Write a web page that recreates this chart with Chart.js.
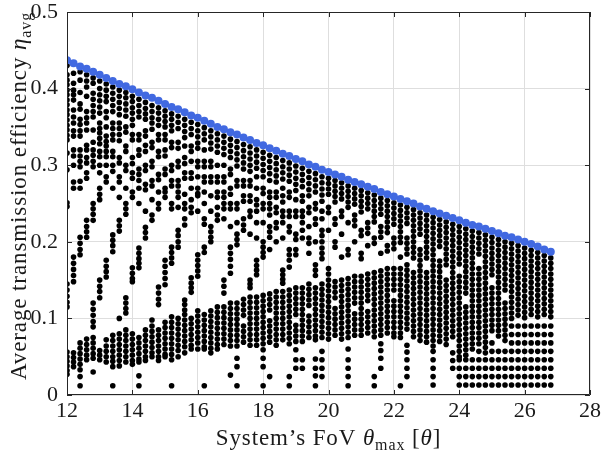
<!DOCTYPE html>
<html>
<head>
<meta charset="utf-8">
<script src="https://cdn.jsdelivr.net/npm/chart.js@4/dist/chart.umd.min.js"></script>
<style>
  html, body { margin: 0; padding: 0; background: #ffffff; }
  canvas { display: block; }
</style>
</head>
<body>
<canvas id="fovChart" width="602" height="454"></canvas>
<script>
// Field-of-view grid (degrees) for every evaluated system configuration
const fovValues = [
  12.0, 12.2, 12.4, 12.6, 12.8, 13.0, 13.2, 13.4, 13.6, 13.8,
  14.0, 14.2, 14.4, 14.6, 14.8, 15.0, 15.2, 15.4, 15.6, 15.8,
  16.0, 16.2, 16.4, 16.6, 16.8, 17.0, 17.2, 17.4, 17.6, 17.8,
  18.0, 18.2, 18.4, 18.6, 18.8, 19.0, 19.2, 19.4, 19.6, 19.8,
  20.0, 20.2, 20.4, 20.6, 20.8, 21.0, 21.2, 21.4, 21.6, 21.8,
  22.0, 22.2, 22.4, 22.6, 22.8, 23.0, 23.2, 23.4, 23.6, 23.8,
  24.0, 24.2, 24.4, 24.6, 24.8, 25.0, 25.2, 25.4, 25.6, 25.8,
  26.0, 26.2, 26.4, 26.6, 26.8
];

// Best achievable average efficiency at each FoV (upper envelope)
const bestEfficiency = [
  0.437, 0.433, 0.429, 0.426, 0.422, 0.418, 0.414, 0.410, 0.406, 0.403,
  0.399, 0.395, 0.391, 0.388, 0.384, 0.380, 0.376, 0.373, 0.369, 0.365,
  0.362, 0.358, 0.354, 0.350, 0.347, 0.343, 0.340, 0.336, 0.333, 0.329,
  0.326, 0.322, 0.319, 0.315, 0.312, 0.308, 0.305, 0.301, 0.298, 0.294,
  0.291, 0.288, 0.285, 0.281, 0.278, 0.275, 0.272, 0.269, 0.265, 0.262,
  0.259, 0.256, 0.253, 0.250, 0.246, 0.243, 0.240, 0.237, 0.234, 0.231,
  0.228, 0.225, 0.222, 0.220, 0.217, 0.214, 0.211, 0.208, 0.206, 0.203,
  0.200, 0.197, 0.194, 0.190, 0.187
];

// Efficiency of every configuration, one entry per FoV column (values in thousandths)
const configEfficiency = [
  "430 418 411 405 398 392 385 379 372 366 359 352 346 339 333 316 294 251 246 145 137 129 121 115 56 50 44 38 32 27",
  "420 407 398 392 385 372 363 355 345 338 320 312 300 278 270 180 172 164 156 148 55 49 43 37",
  "422 411 395 380 373 360 353 345 338 320 312 305 298 279 270 206 198 190 183 68 61 54 47 40 33 24 12",
  "418 410 402 390 370 362 355 346 326 320 310 303 290 283 228 220 213 206 73 66 59 52 46",
  "414 407 394 386 378 370 363 346 330 320 313 305 298 250 243 236 228 120 112 104 96 89 75 68 61 54 48 30",
  "410 400 392 384 376 368 355 348 342 335 328 318 311 300 290 270 262 255 150 142 135 127 58 52 46",
  "406 398 390 383 370 362 350 338 331 325 318 311 300 285 278 176 168 161 154 72 64 57 50 43",
  "402 394 386 378 370 355 348 340 333 318 311 300 292 270 209 202 195 187 78 71 64 57 50 44 37 12",
  "398 390 382 374 366 355 348 340 332 310 303 285 278 258 228 221 214 100 80 73 66 59 52 45 38",
  "395 388 380 372 364 350 343 325 318 300 293 270 250 243 236 127 120 113 107 85 78 71 64 57 50 43",
  "390 383 375 368 360 352 340 333 310 302 290 283 265 258 166 159 152 148 80 73 66 59 52 45 40",
  "386 378 370 363 340 333 320 313 295 288 280 270 250 192 185 178 172 166 75 68 61 54 47 43 25 12",
  "382 374 367 360 345 338 326 318 300 293 275 268 240 219 212 205 85 78 71 64 57 50 45",
  "378 370 362 355 347 330 323 305 298 280 273 255 235 228 98 90 83 76 69 62 55 50",
  "375 368 360 352 340 333 318 311 288 281 265 250 243 141 133 125 118 85 78 71 64 57 50 45",
  "371 364 357 350 340 333 320 312 295 288 270 265 258 176 168 160 152 144 95 88 81 74 67 60 53 50",
  "367 360 352 345 330 323 300 293 280 273 250 243 193 186 179 172 102 95 88 81 74 67 60 53 46 12",
  "364 356 348 330 322 305 298 280 273 265 258 245 215 208 200 193 100 93 86 79 72 65 58 50",
  "360 352 344 336 325 310 302 290 283 262 250 243 230 222 124 118 111 105 98 91 84 77 70 63 55",
  "356 348 340 325 318 305 290 283 270 255 245 238 153 146 140 134 100 93 86 79 72 65 60",
  "353 345 337 329 322 305 298 285 270 263 260 240 183 176 169 162 155 110 103 96 89 82 75 68 60",
  "349 341 333 320 305 298 285 278 265 250 230 223 193 186 105 98 91 84 77 70 63 60 12",
  "345 337 329 321 305 298 285 278 260 240 220 213 206 200 110 103 96 89 82 75 68 61 55",
  "341 333 325 317 300 285 278 265 258 245 235 228 115 108 101 94 87 80 73 66 60",
  "338 330 322 314 300 285 278 265 258 250 243 230 150 142 133 115 108 101 94 87 80 73 66",
  "334 326 318 310 295 288 270 262 250 243 220 193 185 177 168 159 120 113 106 99 92 85 78 71 64 26",
  "331 323 315 307 299 280 273 250 243 225 210 203 196 120 113 106 99 92 85 78 71 64 48 37 12",
  "327 319 311 303 295 280 273 260 253 230 222 215 125 118 111 104 90 83 76 69",
  "324 316 308 300 292 280 273 260 253 240 233 210 150 145 140 128 121 114 107 100 93 86 79 72 65",
  "320 312 304 296 285 270 255 248 240 225 205 176 169 163 157 128 121 114 107 100 93 86 79 72 65",
  "317 309 301 293 285 270 263 250 243 225 200 193 186 180 130 123 116 109 102 95 88 81 74 67 59 48 37 12",
  "313 305 297 289 280 265 258 250 243 235 220 213 206 190 132 125 118 111 97 90 83 76 69 24",
  "310 302 294 286 278 265 258 245 238 225 218 200 135 128 121 114 107 100 93 86 79 72 65",
  "306 298 290 282 270 260 252 240 233 225 205 163 157 151 146 135 128 121 114 107 100 93 86 79 72",
  "303 295 287 279 265 258 240 233 220 213 190 183 176 167 137 130 123 116 109 102 95 88 81 74 67 24 12",
  "299 291 283 275 267 255 240 233 210 203 190 183 140 133 126 119 112 105 91 84 77 70 59 46 35",
  "296 288 280 272 260 253 240 233 225 215 205 140 133 126 119 112 105 98 91 84 77 70 46 35",
  "292 284 276 268 260 245 238 220 205 198 185 145 138 131 124 117 103 96 89 82 75",
  "289 281 273 265 250 243 230 223 200 170 163 156 140 133 126 119 112 105 98 91 84 77 72 47 35 25 12",
  "285 277 269 261 253 240 230 215 208 200 192 185 178 145 138 131 124 117 110 103 96 89 82 75 57 46 35 24",
  "283 276 269 262 245 238 215 165 158 150 143 136 129 122 115 108 101 94 87 80 73",
  "280 273 266 259 252 230 223 200 193 148 141 134 127 113 106 99 92 85 78",
  "277 270 263 256 240 233 210 180 150 143 136 129 122 115 108 101 94 87 80 73",
  "273 266 259 252 245 225 190 183 152 145 138 131 124 117 110 103 96 89 82 75 60 46 35 24 12",
  "270 263 256 249 235 228 221 200 155 148 141 134 127 120 106 99 92 85 78",
  "267 260 253 246 239 215 208 185 178 155 148 141 134 127 120 113 106 99 92 85 78",
  "264 257 250 243 225 218 211 195 158 151 144 137 130 123 109 102 95 88 81",
  "261 254 247 240 233 226 205 198 160 153 146 139 132 125 118 111 104 97 90 83 76 24 12",
  "257 250 243 236 220 213 206 185 162 155 148 141 134 127 120 113 106 99 92 85 78 67 58 48 35",
  "254 247 240 233 226 219 212 195 188 165 158 151 144 137 130 123 116 109 102 95 88 81",
  "251 244 237 230 223 205 198 191 165 158 151 144 137 123 116 109 102 95 88 81 76",
  "248 241 234 227 220 213 206 199 180 165 158 151 144 137 130 123 116 109 102 95 88 81 75 12",
  "245 238 231 224 205 198 191 184 170 163 156 149 142 135 128 121 114 107 100 93 86 65 56 46 35 24",
  "242 235 228 221 214 207 200 193 186 179 160 153 146 139 132 125 118 111 104 97 90 83 76",
  "238 231 224 217 210 190 183 176 169 162 155 148 141 134 127 120 113 106 99 92 85 78 71",
  "235 228 221 214 207 200 193 186 179 160 153 146 139 132 125 118 111 104 97 90 83 76 69",
  "232 225 218 211 204 197 190 183 176 169 162 155 148 141 134 127 120 113 106 99 92 85 78 71 64 57 46 35 24 13",
  "229 222 215 208 201 194 175 168 161 154 147 140 133 126 119 112 105 98 91 84 77 70",
  "226 219 212 205 198 191 184 177 170 150 143 136 129 122 115 108 101 94 87 80 73 66",
  "223 216 209 202 195 188 181 174 167 160 153 146 139 132 125 118 111 104 97 90 83 76 55 45 35",
  "220 213 206 199 192 185 178 171 155 148 141 134 127 120 113 106 99 92 85 78 71 64 57 50 46 35 24 13",
  "217 210 203 196 189 182 175 168 161 154 147 140 133 115 108 101 94 87 80 73 66 59 52 46 35 24 13",
  "214 207 200 193 186 179 172 165 158 151 144 137 130 123 116 109 102 95 88 81 74 67 60 46 35 24 13",
  "212 205 198 191 184 165 158 151 144 137 130 123 116 109 102 95 88 81 74 67 57 46 35 24 13",
  "209 202 195 188 181 174 167 160 153 146 139 132 125 118 111 104 97 90 83 76 69 62 55 46 35 24 13",
  "206 199 192 185 178 171 164 157 140 133 126 119 112 105 98 91 84 68 57 46 35 24 13",
  "203 196 189 182 175 168 161 154 147 140 133 126 119 112 105 98 91 84 77 57 46 35 24 13",
  "200 193 186 179 172 165 158 151 144 137 120 113 106 99 92 85 78 71 57 46 35 24 13",
  "198 191 184 177 170 163 156 149 142 135 128 121 114 107 100 90 79 68 57 46 35 24 13",
  "195 188 181 174 167 160 153 146 139 132 125 118 111 104 90 79 68 57 46 35 24 13",
  "192 185 178 171 164 157 150 143 136 129 122 115 108 101 90 79 68 57 46 35 24 13",
  "189 182 175 168 161 154 147 140 133 126 119 112 105 90 79 68 57 46 35 24 13",
  "186 179 172 165 158 151 144 137 130 123 116 109 102 90 79 68 57 46 35 24 13",
  "182 175 168 161 154 147 140 133 126 119 112 105 90 79 68 57 46 35 24 13",
  "179 172 165 158 151 144 137 130 123 116 109 102 90 79 68 57 46 35 24 13"
];

// Axis ticks
const xTicks = [12, 14, 16, 18, 20, 22, 24, 26, 28];
const yTicks = [0, 0.1, 0.2, 0.3, 0.4, 0.5];

const SERIF = '"Liberation Serif", "Times New Roman", "DejaVu Serif", serif';
const INK = '#1a1a1a';

const configPoints = [];
configEfficiency.forEach((row, i) => {
  row.trim().split(/\s+/).forEach(v => {
    configPoints.push({ x: fovValues[i], y: Number(v) / 1000 });
  });
});
const bestPoints = fovValues.map((x, i) => ({ x, y: bestEfficiency[i] }));

// Draws a run of mixed-style text segments starting at (x, y) on the baseline
function drawRuns(ctx, runs, x, y, spacing) {
  let cx = x;
  runs.forEach(r => {
    ctx.font = r.font;
    if ('letterSpacing' in ctx) ctx.letterSpacing = spacing + 'px';
    ctx.fillText(r.text, cx, y + (r.dy || 0));
    cx += ctx.measureText(r.text).width;
  });
  return cx - x;
}
function measureRuns(ctx, runs, spacing) {
  let w = 0;
  runs.forEach(r => {
    ctx.font = r.font;
    if ('letterSpacing' in ctx) ctx.letterSpacing = spacing + 'px';
    w += ctx.measureText(r.text).width;
  });
  return w;
}

// Box frame, inward ticks and the axis titles
const framePlugin = {
  id: 'frame',
  afterDraw(chart) {
    const { ctx, chartArea: a, scales } = chart;
    ctx.save();
    ctx.strokeStyle = '#262626';
    ctx.lineWidth = 1;
    ctx.beginPath();
    ctx.rect(a.left + 0.5, a.top + 0.5, a.right - a.left - 1, a.bottom - a.top - 1);
    ctx.stroke();
    const t = 5;
    ctx.beginPath();
    xTicks.forEach(v => {
      const px = Math.round(scales.x.getPixelForValue(v)) + 0.5;
      ctx.moveTo(px, a.bottom); ctx.lineTo(px, a.bottom - t);
      ctx.moveTo(px, a.top); ctx.lineTo(px, a.top + t);
    });
    yTicks.forEach(v => {
      const py = Math.round(scales.y.getPixelForValue(v)) + 0.5;
      ctx.moveTo(a.left, py); ctx.lineTo(a.left + t, py);
      ctx.moveTo(a.right, py); ctx.lineTo(a.right - t, py);
    });
    ctx.stroke();

    ctx.fillStyle = INK;
    ctx.textBaseline = 'alphabetic';
    ctx.textAlign = 'left';
    const big = '23px ' + SERIF;
    const bigIt = 'italic 23px ' + SERIF;
    const small = '16px ' + SERIF;

    const xRuns = [
      { text: 'System\u2019s FoV ', font: big },
      { text: '\u03b8', font: bigIt },
      { text: 'max', font: small, dy: 5 },
      { text: ' [', font: big },
      { text: '\u03b8', font: bigIt },
      { text: ']', font: big }
    ];
    const sp = 0.9;
    const xw = measureRuns(ctx, xRuns, sp);
    drawRuns(ctx, xRuns, (a.left + a.right) / 2 - xw / 2, 445, sp);

    const yRuns = [
      { text: 'Average transmission efficiency ', font: big },
      { text: '\u03b7', font: bigIt },
      { text: 'avg', font: small, dy: 5 }
    ];
    const yw = measureRuns(ctx, yRuns, sp);
    ctx.translate(26, 196);
    ctx.rotate(-Math.PI / 2);
    drawRuns(ctx, yRuns, -yw / 2, 0, sp);
    ctx.restore();
  }
};

new Chart(document.getElementById('fovChart'), {
  type: 'scatter',
  data: {
    datasets: [
      {
        label: 'Best configuration',
        data: bestPoints,
        pointRadius: 4,
        pointHoverRadius: 4,
        backgroundColor: '#4169e1',
        borderWidth: 0,
        order: 0
      },
      {
        label: 'All configurations',
        data: configPoints,
        pointRadius: 2.8,
        pointHoverRadius: 2.8,
        backgroundColor: '#000000',
        borderWidth: 0,
        order: 1
      }
    ]
  },
  options: {
    responsive: false,
    animation: false,
    devicePixelRatio: 1,
    events: [],
    layout: { padding: { top: 12, right: 12, left: 0, bottom: 0 } },
    plugins: { legend: { display: false }, tooltip: { enabled: false } },
    scales: {
      x: {
        type: 'linear',
        min: 12,
        max: 28,
        afterBuildTicks: s => { s.ticks = xTicks.map(v => ({ value: v })); },
        afterFit: s => { s.height = 59; s.paddingLeft = 0; s.paddingRight = 0; },
        ticks: {
          color: INK,
          font: { family: SERIF, size: 22 },
          padding: 3,
          maxRotation: 0,
          callback: v => String(v)
        },
        grid: { color: '#dedede', lineWidth: 1, drawTicks: false, tickLength: 0 },
        border: { display: false }
      },
      y: {
        type: 'linear',
        min: 0,
        max: 0.5,
        afterBuildTicks: s => { s.ticks = yTicks.map(v => ({ value: v })); },
        afterFit: s => { s.width = 67; s.paddingTop = 0; s.paddingBottom = 0; },
        ticks: {
          color: INK,
          font: { family: SERIF, size: 22 },
          padding: 9,
          callback: v => (v === 0 ? '0' : v.toFixed(1))
        },
        grid: { color: '#dedede', lineWidth: 1, drawTicks: false, tickLength: 0 },
        border: { display: false }
      }
    }
  },
  plugins: [framePlugin]
});
</script>
</body>
</html>
